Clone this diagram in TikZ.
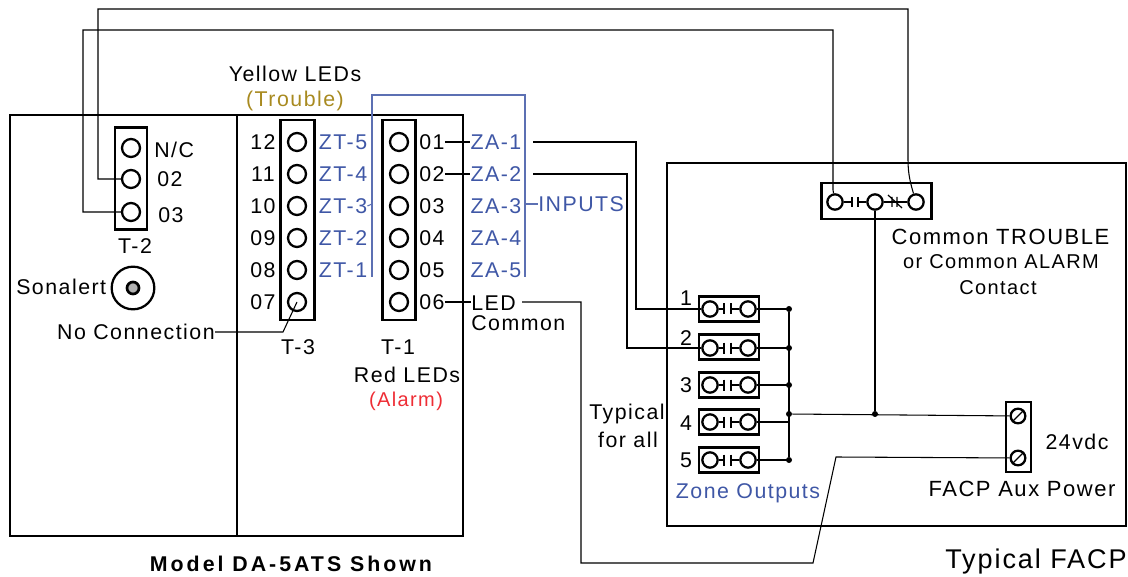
\documentclass[tikz,border=0pt]{standalone}
\usepackage{fontspec}
\setmainfont[LetterSpace=7]{Liberation Sans}
\newfontface\modelfont[LetterSpace=14]{Liberation Sans Bold}
\usetikzlibrary{arrows.meta}
\definecolor{zoneblue}{HTML}{3F57A6}
\definecolor{troubleyellow}{HTML}{A88A20}
\definecolor{alarmred}{HTML}{EE2D35}
\tikzstyle{lbl} = [inner sep=0pt, font=\fontsize{16}{19}\selectfont]
\tikzstyle{bluelbl} = [lbl, text=zoneblue]
\tikzstyle{term} = [circle, draw, line width=1.7pt, minimum size=13.5pt, inner sep=0pt]
\tikzstyle{smallterm} = [term, minimum size=11.5pt]
\tikzstyle{strip} = [draw, line width=2.1pt, inner sep=0pt]
\tikzset{wire/.style = {line width=0.8pt},
  blueline/.style = {zoneblue!85!white, line width=0.8pt},
  bar/.style = {line width=0.9pt},
  junct/.style = {circle, fill, minimum size=4.5pt, inner sep=0pt}
}

\begin{document}
\begin{tikzpicture}[x=0.75pt, y=-0.75pt]
            \useasboundingbox (0,0) rectangle (1128,577);

            % enclosures
            \node[strip, minimum width=339.75pt, minimum height=315.75pt] (panel) at (236.5,325.5) {};
            \coordinate (divtop) at (237,115);
            \coordinate (divbot) at (237,536);
            \draw[line width=2.1pt] (divtop) -- (divbot);
            \node[strip, minimum width=344.25pt, minimum height=272.25pt] (facp) at (896.5,344.5) {};

            % terminal strips
            \node[strip, minimum width=24pt, minimum height=77pt] (t2) at (131,178.5) {};
            \node[strip, minimum width=25pt, minimum height=150pt] (t3) at (297.5,220) {};
            \node[strip, minimum width=25pt, minimum height=150pt] (t1) at (399,220) {};
            \node[strip, minimum width=83pt, minimum height=27pt] (contact) at (876.5,201) {};
            \node[strip, line width=1.5pt, minimum width=18.5pt, minimum height=52pt] (aux) at (1018.5,437) {};

            % T-2
            \node[term] (t2a) at (131,148) {};
            \node[term] (t2b) at (131,179) {};
            \node[term] (t2c) at (131,212) {};
            \node[lbl, anchor=west] (nc) at (154,150) {N/C};
            \node[lbl, anchor=west] (t2n2) at (157,179) {02};
            \node[lbl, anchor=west] (t2n3) at (158,215) {03};
            \node[lbl] (t2name) at (135,246) {T-2};

            % T-3 and T-1
            \foreach \y/\num/\zt/\i in {142/12/ZT-5/1, 174/11/ZT-4/2, 206/10/ZT-3/3, 238/09/ZT-2/4, 270/08/ZT-1/5, 302/07//6} {
              \node[term] (c\i) at (297,\y) {};
              \node[lbl] (l\i) at (263,\y) {\num};
              \node[bluelbl] (zt\i) at (343,\y) {\zt};
            }
            \foreach \y/\num/\za/\i in {142/01/ZA-1/1, 174/02/ZA-2/2, 206/03/ZA-3/3, 238/04/ZA-4/4, 270/05/ZA-5/5, 302/06//6} {
              \node[term] (d\i) at (399,\y) {};
              \node[lbl] (n\i) at (432,\y) {\num};
              \node[bluelbl] (za\i) at (496,\y) {\za};
            }

            % other texts
            \node[lbl] (yellow) at (295,74) {Yellow LEDs};
            \node[lbl, text=troubleyellow] (trouble) at (295,100.5) {(Trouble)};
            \node[lbl] (t3name) at (298,347) {T-3};
            \node[lbl] (t1name) at (398,347) {T-1};
            \node[lbl] (red) at (407,375) {Red LEDs};
            \node[lbl, text=alarmred, font=\fontsize{15}{18}\selectfont] (alarm) at (406,401.5) {(Alarm)};
            \node[lbl, anchor=west] (led) at (471,303) {LED};
            \node[lbl, anchor=west] (common) at (471,323) {Common};
            \node[bluelbl, anchor=west] (inputs) at (538,204) {INPUTS};
            \node[lbl, anchor=east] (noconn) at (215,332) {No Connection};
            \node[lbl, anchor=west] (sonalert) at (16,287) {Sonalert};
            \node[lbl] (typical) at (627,414) {Typical};
            \node[lbl] (forall) at (628,440) {for all};
            \node[bluelbl] (zoneout) at (748,493) {Zone Outputs};
            \node[lbl, font=\fontsize{16.5}{19}\selectfont] (auxname) at (1022,489) {FACP Aux Power};
            \node[lbl] (vdc) at (1077,442) {24vdc};
            \node[lbl, font=\fontsize{16.5}{19}\selectfont] (ctrouble) at (1000.5,237) {Common TROUBLE};
            \node[lbl, font=\fontsize{15}{18}\selectfont] (calarm) at (1001,262) {or Common ALARM};
            \node[lbl, font=\fontsize{15}{18}\selectfont] (ccontact) at (998,288) {Contact};
            \node[lbl, font=\fontsize{20.3}{24}\selectfont] (tfacp) at (1036,561) {Typical FACP};
            \node[lbl, font=\fontsize{16}{19}\modelfont] (model) at (291,564) {Model DA-5ATS Shown};

            % sonalert
            \node[circle, draw, line width=1.7pt, minimum size=32pt, inner sep=0pt] (son) at (133,288) {};
            \node[circle, draw, fill=black!30, line width=2pt, minimum size=9pt, inner sep=0pt] (soncore) at (133,288) {};

            % zone outputs
            \foreach \y/\boxy/\i/\ly in {309/309/1/298, 348/347/2/338, 385/385/3/385, 422/422/4/423, 460/460/5/460} {
              \node[strip, minimum width=45pt, minimum height=19pt] (z\i) at (729,\boxy) {};
              \node[smallterm] (zl\i) at (710,\y) {};
              \node[smallterm] (zr\i) at (748,\y) {};
              \node[lbl] (zn\i) at (686,\ly) {\i};
              \coordinate (b\i) at (724,\y);
              \coordinate (e\i) at (731,\y);
              \coordinate (bus\i) at (789,\y);
              \draw[bar] (zl\i) -- (b\i) ++(0,-5.5) -- ++(0,11);
              \draw[bar] (zr\i) -- (e\i) ++(0,-5.5) -- ++(0,11);
              \draw[wire] (zr\i) -- (bus\i);
            }
            \node[junct] (j1) at (bus1) {};
            \node[junct] (j2) at (bus2) {};
            \node[junct] (j3) at (bus3) {};
            \node[junct] (j5) at (bus5) {};
            \node[junct] (jm) at (789,414) {};
            \node[junct] (jc) at (875,414) {};
            \draw[wire] (j1) -- (j5);

            % common contact
            \node[smallterm] (k1) at (835,202) {};
            \node[smallterm] (k2) at (875,202) {};
            \node[smallterm] (k3) at (916,202) {};
            \coordinate (kb1) at (852,202);
            \coordinate (kb2) at (858,202);
            \draw[bar] (k1) -- (kb1) ++(0,-5) -- ++(0,10);
            \draw[bar] (k2) -- (kb2) ++(0,-5) -- ++(0,10);
            \draw[bar] (k2) -- (k3);
            \draw[bar] (892,197) -- (892,207) (897,197) -- (897,207) (888,195) -- (902,208);

            % aux power terminals
            \node[smallterm, minimum size=11pt] (s1) at (1018,416) {};
            \node[smallterm, minimum size=11pt] (s2) at (1018,458) {};
            \draw[bar] (s1.south west) -- (s1.north east);
            \draw[bar] (s2.south west) -- (s2.north east);

            % blue bracket
            \coordinate (brl) at (372,277);
            \coordinate (brr) at (525,277);
            \draw[blueline] (brl) -- (372,95) -- (525,95) -- (brr);
            \draw[blueline] (zt3.east) -- (372,204);
            \draw[blueline] (525,204) -- (inputs.west);

            %wires
            \coordinate (zaout1) at (533,142);
            \coordinate (zaout2) at (533,174);
            \coordinate (ledout) at (522,302);
            \draw[wire] (n1.east) -- (za1.west);
            \draw[wire] (n2.east) -- (za2.west);
            \draw[wire] (n6.east) -- (led.west |- n6);
            \draw[wire] (zaout1) -- (636,142) -- (636,309) -- (zl1);
            \draw[wire] (zaout2) -- (627,174) -- (627,348) -- (zl2);
            \draw[wire] (ledout) -- (581,302) -- (581,563) -- (813,563) -- (836,457) -- (s2);
            \draw[wire] (t2b) -- (98,179) -- (98,9) -- (908,9) -- (908,160) .. controls (908,175) and (911,185) .. (k3);
            \draw[wire] (t2c) -- (83,212) -- (83,30) -- (833,30) -- (833,190) -- (k1);
            \draw[wire] (jm) -- (s1);
            \draw[wire] (k2) -- (jc);
            \coordinate (nobend) at (283,332);
            \draw[wire] (noconn) -- (nobend) -- (c6.center);
\end{tikzpicture}
\end{document}
